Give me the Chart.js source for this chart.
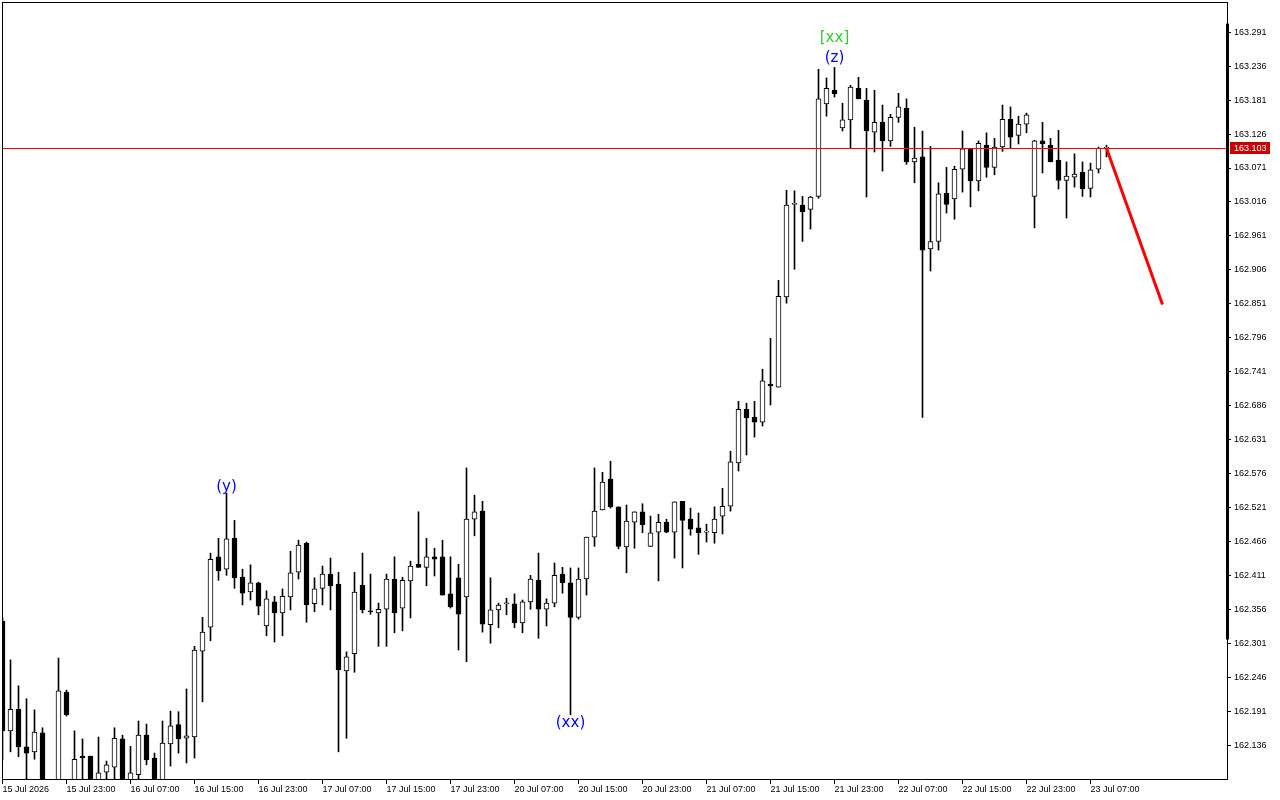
<!DOCTYPE html>
<html>
<head>
<meta charset="utf-8">
<title>USDJPY H1</title>
<script src="https://cdn.jsdelivr.net/npm/chart.js@4.4.1/dist/chart.umd.min.js"></script>
<style>
    html, body { margin: 0; padding: 0; background: #ffffff; }
    #wrap { width: 1280px; height: 800px; position: relative; }
</style>
</head>
<body>
<div id="wrap"><canvas id="grafico"></canvas></div>
<script>
// valores (H1, 15 Jul 15:00 ate 23 Jul 09:00)
const openPrices = [
    162.337, 162.159, 162.194, 162.133, 162.125, 162.156, 162.060, 162.065, 162.222, 162.070,
    162.118, 162.118, 162.070, 162.092, 162.100, 162.146, 162.070, 162.088, 162.152, 162.115,
    162.070, 162.138, 162.169, 162.147, 162.149, 162.288, 162.327, 162.441, 162.421, 162.471,
    162.408, 162.384, 162.399, 162.329, 162.368, 162.350, 162.376, 162.416, 162.463, 162.365,
    162.390, 162.413, 162.397, 162.256, 162.284, 162.395, 162.353, 162.350, 162.356, 162.405,
    162.358, 162.402, 162.429, 162.424, 162.441, 162.441, 162.381, 162.407, 162.376, 162.502,
    162.515, 162.331, 162.355, 162.365, 162.365, 162.334, 162.368, 162.403, 162.356, 162.366,
    162.413, 162.399, 162.343, 162.405, 162.473, 162.517, 162.567, 162.522, 162.457, 162.497,
    162.514, 162.458, 162.481, 162.497, 162.481, 162.531, 162.502, 162.488, 162.481, 162.480,
    162.507, 162.523, 162.593, 162.680, 162.667, 162.659, 162.721, 162.716, 162.862, 163.012,
    163.011, 163.004, 163.025, 163.175, 163.197, 163.136, 163.149, 163.200, 163.181, 163.129,
    163.145, 163.115, 163.153, 163.168, 163.081, 163.089, 162.940, 162.952, 163.030, 163.021,
    163.069, 163.102, 163.050, 163.108, 163.072, 163.105, 163.150, 163.124, 163.142, 163.025,
    163.115, 163.108, 163.084, 163.051, 163.056, 163.064, 163.038, 163.069, 163.103
];
const highPrices = [
    162.342, 162.274, 162.232, 162.211, 162.193, 162.164, 162.075, 162.277, 162.225, 162.159,
    162.146, 162.118, 162.149, 162.110, 162.164, 162.152, 162.134, 162.175, 162.170, 162.123,
    162.175, 162.191, 162.190, 162.227, 162.296, 162.343, 162.447, 162.471, 162.544, 162.500,
    162.421, 162.428, 162.400, 162.386, 162.377, 162.389, 162.450, 162.468, 162.465, 162.407,
    162.426, 162.439, 162.416, 162.287, 162.416, 162.447, 162.413, 162.366, 162.413, 162.441,
    162.408, 162.434, 162.514, 162.471, 162.455, 162.468, 162.441, 162.429, 162.585, 162.541,
    162.531, 162.407, 162.366, 162.374, 162.381, 162.371, 162.411, 162.447, 162.373, 162.431,
    162.424, 162.423, 162.423, 162.473, 162.585, 162.578, 162.596, 162.522, 162.525, 162.514,
    162.527, 162.507, 162.510, 162.502, 162.530, 162.531, 162.520, 162.512, 162.494, 162.522,
    162.552, 162.612, 162.693, 162.690, 162.693, 162.745, 162.795, 162.889, 163.035, 163.034,
    163.025, 163.025, 163.231, 163.217, 163.234, 163.176, 163.205, 163.218, 163.200, 163.197,
    163.173, 163.158, 163.192, 163.183, 163.137, 163.131, 163.106, 163.047, 163.072, 163.074,
    163.131, 163.103, 163.115, 163.128, 163.119, 163.173, 163.170, 163.155, 163.160, 163.116,
    163.145, 163.119, 163.132, 163.081, 163.094, 163.081, 163.079, 163.105, 163.108
];
const lowPrices = [
    162.112, 162.125, 162.117, 162.070, 162.113, 162.050, 162.030, 162.055, 162.183, 162.060,
    162.070, 162.050, 162.060, 162.070, 162.070, 162.055, 162.060, 162.078, 162.104, 162.055,
    162.060, 162.102, 162.123, 162.107, 162.115, 162.206, 162.305, 162.403, 162.411, 162.390,
    162.363, 162.371, 162.347, 162.313, 162.303, 162.313, 162.355, 162.405, 162.335, 162.352,
    162.363, 162.355, 162.125, 162.147, 162.254, 162.350, 162.348, 162.296, 162.296, 162.318,
    162.321, 162.342, 162.424, 162.394, 162.410, 162.379, 162.358, 162.290, 162.271, 162.475,
    162.319, 162.301, 162.326, 162.347, 162.326, 162.318, 162.356, 162.309, 162.329, 162.360,
    162.382, 162.185, 162.340, 162.379, 162.458, 162.517, 162.520, 162.454, 162.415, 162.455,
    162.480, 162.458, 162.402, 162.480, 162.439, 162.423, 162.476, 162.445, 162.465, 162.463,
    162.478, 162.515, 162.580, 162.606, 162.635, 162.653, 162.687, 162.716, 162.852, 162.907,
    162.952, 162.972, 163.022, 163.155, 163.186, 163.131, 163.103, 163.183, 163.024, 163.097,
    163.066, 163.106, 163.145, 163.077, 163.047, 162.667, 162.904, 162.938, 162.998, 162.988,
    163.032, 163.008, 163.034, 163.056, 163.060, 163.098, 163.103, 163.110, 163.128, 162.974,
    163.063, 163.081, 163.037, 162.990, 163.040, 163.025, 163.024, 163.063, 163.089
];
const closePrices = [
    162.159, 162.194, 162.133, 162.123, 162.157, 162.060, 162.045, 162.224, 162.185, 162.113,
    162.115, 162.060, 162.091, 162.104, 162.147, 162.065, 162.091, 162.152, 162.112, 162.065,
    162.139, 162.167, 162.146, 162.151, 162.290, 162.319, 162.437, 162.418, 162.470, 162.407,
    162.382, 162.399, 162.361, 162.373, 162.350, 162.377, 162.415, 162.460, 162.363, 162.389,
    162.413, 162.394, 162.258, 162.279, 162.384, 162.355, 162.352, 162.356, 162.405, 162.350,
    162.403, 162.426, 162.424, 162.441, 162.437, 162.379, 162.360, 162.348, 162.502, 162.514,
    162.332, 162.355, 162.363, 162.366, 162.334, 162.368, 162.405, 162.356, 162.366, 162.411,
    162.399, 162.343, 162.405, 162.473, 162.515, 162.562, 162.522, 162.458, 162.499, 162.514,
    162.493, 162.480, 162.497, 162.481, 162.530, 162.500, 162.486, 162.480, 162.482, 162.502,
    162.523, 162.595, 162.680, 162.666, 162.659, 162.726, 162.718, 162.863, 163.011, 163.013,
    163.000, 163.024, 163.183, 163.200, 163.191, 163.149, 163.202, 163.183, 163.131, 163.145,
    163.115, 163.153, 163.170, 163.081, 163.087, 162.938, 162.952, 163.029, 163.012, 163.069,
    163.102, 163.050, 163.111, 163.072, 163.105, 163.150, 163.121, 163.142, 163.157, 163.115,
    163.110, 163.081, 163.051, 163.058, 163.061, 163.037, 163.068, 163.103, 163.103
];

const timeLabels = ['15 Jul 2026', '15 Jul 23:00', '16 Jul 07:00', '16 Jul 15:00', '16 Jul 23:00',
    '17 Jul 07:00', '17 Jul 15:00', '17 Jul 23:00', '20 Jul 07:00', '20 Jul 15:00', '20 Jul 23:00',
    '21 Jul 07:00', '21 Jul 15:00', '21 Jul 23:00', '22 Jul 07:00', '22 Jul 15:00', '22 Jul 23:00',
    '23 Jul 07:00'];
const barsPerLabel = 8;

const priceTicks = [162.136, 162.191, 162.246, 162.301, 162.356, 162.411, 162.466, 162.521, 162.576,
    162.631, 162.686, 162.741, 162.796, 162.851, 162.906, 162.961, 163.016, 163.071, 163.126,
    163.181, 163.236, 163.291];

const bidPrice = 163.103;

// linha vermelha de projecao
const projectionBars = [138, 145];
const projectionPrices = [163.103, 162.850];

// marcacoes de ondas
const waveTexts = ['(y)', '(xx)', '(z)', '[xx]'];
const waveBars = [28, 71, 104, 104];
const wavePrices = [162.554, 162.172, 163.249, 163.281];
const waveColors = ['#0000ff', '#0000ff', '#0000ff', '#32cd32'];

// faixa grossa no eixo de precos
const axisBandPrices = [163.305, 162.307];

const fonteEixo = { family: 'Liberation Sans', size: 9 };

const corpos = openPrices.map((o, i) => ({ x: i, y: [o, closePrices[i]] }));
const coresCorpos = openPrices.map((o, i) => closePrices[i] >= o ? '#ffffff' : '#000000');
const pavios = lowPrices.map((l, i) => ({ x: i, y: [l, highPrices[i]] }));
const projecao = projectionBars.map((b, i) => ({ x: b, y: projectionPrices[i] }));

const pluginMoldura = {
    id: 'moldura',
    afterDatasetsDraw(chart) {
        const ctx = chart.ctx;
        const area = chart.chartArea;
        const sx = chart.scales.x;
        const sy = chart.scales.y;
        ctx.save();

        // linha do preco atual
        const yb = Math.round(sy.getPixelForValue(bidPrice));
        ctx.fillStyle = '#ff0000';
        ctx.fillRect(area.left, yb, area.right - area.left, 1);

        // moldura superior e esquerda
        ctx.fillStyle = '#000000';
        ctx.fillRect(area.left, area.top, 1, area.bottom - area.top);
        ctx.fillRect(area.left, area.top, area.right - area.left, 1);

        // faixa grossa do eixo
        const y1 = sy.getPixelForValue(axisBandPrices[0]);
        const y2 = sy.getPixelForValue(axisBandPrices[1]);
        ctx.fillRect(area.right - 1, y1, 3, y2 - y1);

        // etiqueta do preco atual
        ctx.fillStyle = '#c80000';
        ctx.fillRect(area.right + 3, yb - 6, 40, 12);
        ctx.fillStyle = '#ffffff';
        ctx.font = '9px "Liberation Sans"';
        ctx.textBaseline = 'middle';
        ctx.textAlign = 'left';
        ctx.fillText(bidPrice.toFixed(3), area.right + 7, yb + 0.5);

        // textos das ondas
        ctx.font = '15px "DejaVu Sans"';
        ctx.textAlign = 'center';
        waveTexts.forEach((t, i) => {
            ctx.fillStyle = waveColors[i];
            ctx.fillText(t, sx.getPixelForValue(waveBars[i]), sy.getPixelForValue(wavePrices[i]));
        });
        ctx.restore();
    }
};

const ctx1 = document.getElementById('grafico');

const grafico = new Chart(ctx1, {
    type: 'bar',
    data: {
        datasets: [
            {
                type: 'line',
                data: projecao,
                borderColor: '#ff0000',
                borderWidth: 3,
                pointRadius: 0,
                order: 0
            },
            {
                data: corpos,
                backgroundColor: coresCorpos,
                borderColor: '#000000',
                borderWidth: 1,
                borderSkipped: false,
                barThickness: 5,
                minBarLength: 1,
                grouped: false,
                order: 1
            },
            {
                data: pavios,
                backgroundColor: '#000000',
                borderWidth: 0,
                barThickness: 1,
                grouped: false,
                order: 2
            }
        ]
    },
    options: {
        responsive: true,
        maintainAspectRatio: false,
        animation: false,
        layout: { padding: { left: 2, top: 2, right: 0, bottom: 0 } },
        plugins: {
            legend: { display: false },
            tooltip: { enabled: false }
        },
        scales: {
            x: {
                type: 'linear',
                min: -0.0625,
                max: 153.0625,
                offset: false,
                afterFit: (scale) => {
                    scale.height = 21;
                    scale.paddingLeft = 0;
                    scale.paddingRight = 0;
                },
                afterBuildTicks: (scale) => {
                    scale.ticks = timeLabels.map((t, k) => ({ value: k * barsPerLabel }));
                },
                border: { display: true, color: '#000000', width: 1 },
                grid: { drawOnChartArea: false, drawTicks: true, tickLength: 5, color: '#000000', offset: false },
                ticks: {
                    autoSkip: false,
                    maxRotation: 0,
                    minRotation: 0,
                    align: 'start',
                    padding: 0,
                    color: '#000000',
                    font: fonteEixo,
                    callback: (value, index) => timeLabels[index]
                }
            },
            y: {
                type: 'linear',
                position: 'right',
                min: 162.081,
                max: 163.340,
                afterFit: (scale) => {
                    scale.width = 53;
                    scale.paddingTop = 0;
                    scale.paddingBottom = 0;
                },
                afterBuildTicks: (scale) => {
                    scale.ticks = priceTicks.map(v => ({ value: v }));
                },
                border: { display: true, color: '#000000', width: 1 },
                grid: { drawOnChartArea: false, drawTicks: true, tickLength: 4, color: '#000000' },
                ticks: {
                    padding: 3,
                    color: '#000000',
                    font: fonteEixo,
                    callback: (value) => Number(value).toFixed(3)
                }
            }
        }
    },
    plugins: [pluginMoldura]
});
</script>
</body>
</html>
